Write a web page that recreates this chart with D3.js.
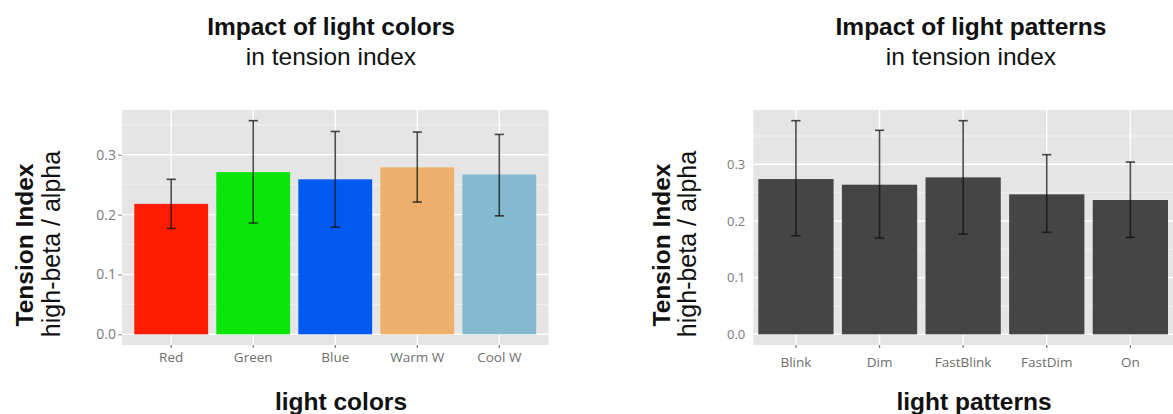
<!DOCTYPE html>
<html>
<head>
<meta charset="utf-8">
<script src="https://cdn.jsdelivr.net/npm/d3@7"></script>
<style>
  html, body { margin: 0; padding: 0; background: #ffffff; }
  svg { display: block; }
</style>
</head>
<body>
<svg id="chart" width="1173" height="414"></svg>
<script>
// ---- data ----
const colorCats = ["Red", "Green", "Blue", "Warm W", "Cool W"];
const colorMeans = [0.218, 0.271, 0.259, 0.279, 0.267];
const colorLower = [0.177, 0.186, 0.179, 0.221, 0.198];
const colorUpper = [0.259, 0.357, 0.339, 0.338, 0.334];

const patternCats = ["Blink", "Dim", "FastBlink", "FastDim", "On"];
const patternMeans = [0.274, 0.264, 0.277, 0.247, 0.237];
const patternLower = [0.174, 0.170, 0.177, 0.180, 0.171];
const patternUpper = [0.377, 0.360, 0.377, 0.317, 0.304];

const yTickValues = [0.0, 0.1, 0.2, 0.3];
const yMinorValues = [0.05, 0.15, 0.25, 0.35];

const colorTitle = "Impact of light colors";
const patternTitle = "Impact of light patterns";
const subTitle = "in tension index";
const yTitle1 = "Tension Index";
const yTitle2 = "high-beta / alpha";
const colorXTitle = "light colors";
const patternXTitle = "light patterns";

// ---- styles ----
const colorPalette = ["#ff1c00", "#0ae60a", "#005af0", "#ecb06c", "#83bacf"];
const patternFill = "#454545";

const svg = d3.select("#chart");

function drawPanel(cfg) {
  const g = svg.append("g");
  const x = d3.scaleBand()
    .domain(cfg.cats)
    .range([cfg.left, cfg.right])
    .paddingInner(0.1)
    .paddingOuter(cfg.outer);
  const ymax = d3.max(cfg.upper);
  const pad = ymax * 0.05;
  const y = d3.scaleLinear().domain([-pad, ymax + pad]).range([cfg.bottom, cfg.top]);

  // panel background
  g.append("rect")
    .attr("x", cfg.left).attr("y", cfg.top)
    .attr("width", cfg.right - cfg.left).attr("height", cfg.bottom - cfg.top)
    .attr("fill", "#e5e5e5");

  // minor grid
  g.selectAll(".minor").data(yMinorValues.filter(v => y(v) >= cfg.top)).enter()
    .append("line")
    .attr("x1", cfg.left).attr("x2", cfg.right)
    .attr("y1", d => y(d)).attr("y2", d => y(d))
    .attr("stroke", "#f3f3f3").attr("stroke-width", 0.8);
  // major grid
  g.selectAll(".major").data(yTickValues).enter()
    .append("line")
    .attr("x1", cfg.left).attr("x2", cfg.right)
    .attr("y1", d => y(d)).attr("y2", d => y(d))
    .attr("stroke", "#ffffff").attr("stroke-width", 1.4);
  g.selectAll(".vgrid").data(cfg.cats).enter()
    .append("line")
    .attr("x1", d => x(d) + x.bandwidth() / 2).attr("x2", d => x(d) + x.bandwidth() / 2)
    .attr("y1", cfg.top).attr("y2", cfg.bottom)
    .attr("stroke", "#ffffff").attr("stroke-width", 1.4);

  // bars
  g.selectAll(".bar").data(cfg.cats).enter()
    .append("rect")
    .attr("x", d => x(d))
    .attr("y", (d, i) => y(cfg.means[i]))
    .attr("width", x.bandwidth())
    .attr("height", (d, i) => y(0) - y(cfg.means[i]))
    .attr("fill", (d, i) => cfg.fill(i));

  // error bars
  const cap = 4.6;
  const eb = g.selectAll(".eb").data(cfg.cats).enter().append("g")
    .attr("stroke", "#111").attr("stroke-opacity", 0.75).attr("stroke-width", 1.6);
  eb.append("line")
    .attr("x1", d => x(d) + x.bandwidth() / 2).attr("x2", d => x(d) + x.bandwidth() / 2)
    .attr("y1", (d, i) => y(cfg.lower[i])).attr("y2", (d, i) => y(cfg.upper[i]));
  eb.append("line")
    .attr("x1", d => x(d) + x.bandwidth() / 2 - cap).attr("x2", d => x(d) + x.bandwidth() / 2 + cap)
    .attr("y1", (d, i) => y(cfg.lower[i])).attr("y2", (d, i) => y(cfg.lower[i]));
  eb.append("line")
    .attr("x1", d => x(d) + x.bandwidth() / 2 - cap).attr("x2", d => x(d) + x.bandwidth() / 2 + cap)
    .attr("y1", (d, i) => y(cfg.upper[i])).attr("y2", (d, i) => y(cfg.upper[i]));

  // y axis
  const ya = g.append("g")
    .attr("transform", `translate(${cfg.left},0)`)
    .call(d3.axisLeft(y).tickValues(yTickValues).tickFormat(d3.format(".1f"))
      .tickSize(cfg.yTickSize).tickPadding(cfg.yTickPad));
  ya.select(".domain").remove();
  ya.selectAll("line").attr("stroke", "#888");
  ya.selectAll("text").attr("fill", "#7a7a7a")
    .style("font-family", "'Open Sans', sans-serif").style("font-size", cfg.yFont + "px");

  // x axis
  const xa = g.append("g")
    .attr("transform", `translate(0,${cfg.bottom})`)
    .call(d3.axisBottom(x).tickSize(3).tickPadding(cfg.xTickPad));
  xa.select(".domain").remove();
  xa.selectAll("line").attr("stroke", "#777").attr("stroke-width", 1.2);
  xa.selectAll("text").attr("fill", "#6e6e6e")
    .style("font-family", "'Open Sans', sans-serif").style("font-size", "13.5px");

  // titles
  g.append("text").attr("x", cfg.titleX).attr("y", 35)
    .attr("text-anchor", "middle")
    .style("font-family", "'Liberation Sans', Arial, sans-serif")
    .style("font-weight", "bold").style("font-size", "24.5px").attr("fill", "#111")
    .text(cfg.title);
  g.append("text").attr("x", cfg.titleX).attr("y", 65)
    .attr("text-anchor", "middle")
    .style("font-family", "'Liberation Sans', Arial, sans-serif")
    .style("font-size", "24.5px").attr("fill", "#111")
    .text(subTitle);
  g.append("text").attr("x", cfg.xTitleX).attr("y", 410)
    .attr("text-anchor", "middle")
    .style("font-family", "'Liberation Sans', Arial, sans-serif")
    .style("font-weight", "bold").style("font-size", "24.5px").attr("fill", "#111")
    .text(cfg.xTitle);

  // y axis title
  g.append("text")
    .attr("transform", `translate(${cfg.yTitleX1},245) rotate(-90)`)
    .attr("text-anchor", "middle")
    .style("font-family", "'Liberation Sans', Arial, sans-serif")
    .style("font-weight", "bold").style("font-size", "24.5px").attr("fill", "#111")
    .text(yTitle1);
  g.append("text")
    .attr("transform", `translate(${cfg.yTitleX2},244) rotate(-90)`)
    .attr("text-anchor", "middle")
    .style("font-family", "'Liberation Sans', Arial, sans-serif")
    .style("font-size", "25px").attr("fill", "#111")
    .text(yTitle2);
}

drawPanel({
  cats: colorCats, means: colorMeans, lower: colorLower, upper: colorUpper,
  fill: i => colorPalette[i],
  left: 122, right: 548.5, top: 110, bottom: 345, outer: 0.15,
  yTickSize: 4, yTickPad: 2, yFont: 14, xTickPad: 4,
  title: colorTitle, titleX: 331, xTitle: colorXTitle, xTitleX: 341,
  yTitleX1: 33, yTitleX2: 60
});

drawPanel({
  cats: patternCats, means: patternMeans, lower: patternLower, upper: patternUpper,
  fill: () => patternFill,
  left: 753.3, right: 1173, top: 110, bottom: 345, outer: 0.06,
  yTickSize: 0, yTickPad: 8, yFont: 13, xTickPad: 9,
  title: patternTitle, titleX: 971, xTitle: patternXTitle, xTitleX: 974,
  yTitleX1: 670, yTitleX2: 696
});
</script>
</body>
</html>
